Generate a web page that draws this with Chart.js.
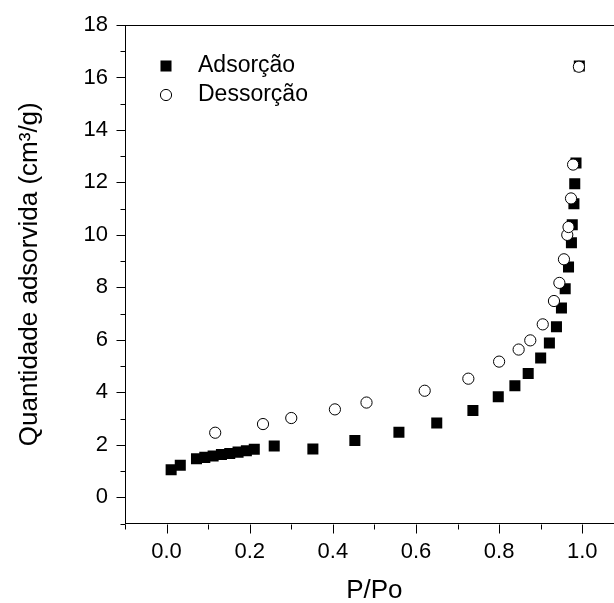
<!DOCTYPE html>
<html>
<head>
<meta charset="utf-8">
<script src="https://cdn.jsdelivr.net/npm/chart.js@4/dist/chart.umd.min.js"></script>
<style>
  html, body { margin: 0; padding: 0; background: #fff; overflow: hidden; }
  #wrap { width: 614px; height: 603px; overflow: hidden; position: relative; background: #fff; }
  canvas { display: block; }
</style>
</head>
<body>
<div id="wrap"><canvas id="isotherm" width="640" height="610"></canvas></div>
<script>
// N2 isotherm: relative pressure (P/Po) vs. adsorbed quantity (cm³/g)
const adsorptionP = [0.011, 0.033, 0.072, 0.092, 0.112, 0.132, 0.152, 0.172, 0.192, 0.211,
                     0.259, 0.352, 0.453, 0.559, 0.650, 0.737, 0.798, 0.838, 0.870, 0.900,
                     0.921, 0.938, 0.950, 0.959, 0.967, 0.974, 0.976, 0.980, 0.982, 0.985, 0.993];
const adsorptionQ = [1.05, 1.22, 1.47, 1.52, 1.57, 1.63, 1.67, 1.72, 1.77, 1.83,
                     1.95, 1.84, 2.16, 2.48, 2.83, 3.31, 3.83, 4.25, 4.72, 5.31,
                     5.88, 6.50, 7.21, 7.95, 8.78, 9.70, 10.39, 11.19, 11.95, 12.74, 16.44];
const desorptionP = [0.117, 0.232, 0.300, 0.405, 0.481, 0.621, 0.726, 0.800, 0.847, 0.875,
                     0.905, 0.932, 0.945, 0.956, 0.964, 0.967, 0.973, 0.978, 0.992];
const desorptionQ = [2.46, 2.79, 3.02, 3.35, 3.61, 4.06, 4.52, 5.17, 5.63, 5.98,
                     6.59, 7.48, 8.17, 9.07, 10.00, 10.30, 11.39, 12.68, 16.41];

const seriesNames = ['Adsorção', 'Dessorção'];
const xTickLabels = ['0.0', '0.2', '0.4', '0.6', '0.8', '1.0'];
const yTickLabels = ['0', '2', '4', '6', '8', '10', '12', '14', '16', '18'];
const xAxisTitle = 'P/Po';
const yAxisTitle = 'Quantidade adsorvida (cm³/g)';

const FONT = "'Liberation Sans', Arial, sans-serif";

const toPoints = (xs, ys) => xs.map((x, i) => ({ x: x, y: ys[i] }));

// Outward tick marks (long for labelled values, short otherwise) plus the top/right frame
const axisFrame = {
  id: 'axisFrame',
  afterDraw(chart) {
    const { ctx, chartArea: a } = chart;
    const xs = chart.scales.x, ys = chart.scales.y;
    const al = v => Math.round(v) + 0.5;
    ctx.save();
    ctx.strokeStyle = '#000';
    ctx.lineWidth = 1;
    ctx.beginPath();
    ctx.moveTo(al(a.left), al(a.top));
    ctx.lineTo(al(a.right), al(a.top));
    ctx.lineTo(al(a.right), al(a.bottom));
    xs.ticks.forEach(t => {
      const px = al(xs.getPixelForValue(t.value));
      const len = t.label ? 9 : 5;
      ctx.moveTo(px, al(a.bottom));
      ctx.lineTo(px, al(a.bottom) + len);
    });
    ys.ticks.forEach(t => {
      const py = al(ys.getPixelForValue(t.value));
      const len = t.label ? 9 : 5;
      ctx.moveTo(al(a.left), py);
      ctx.lineTo(al(a.left) - len, py);
    });
    ctx.stroke();
    ctx.restore();
  }
};

// Legend drawn inside the plot, upper left, using each dataset's own marker style
const insideLegend = {
  id: 'insideLegend',
  afterDatasetsDraw(chart) {
    const { ctx, chartArea: a } = chart;
    ctx.save();
    ctx.font = '23px ' + FONT;
    ctx.textBaseline = 'middle';
    ctx.textAlign = 'left';
    chart.data.datasets.forEach((ds, i) => {
      const cy = a.top + 41 + i * 29;
      const cx = a.left + 41;
      ctx.fillStyle = ds.pointBackgroundColor;
      ctx.strokeStyle = ds.pointBorderColor;
      ctx.lineWidth = ds.pointBorderWidth;
      Chart.helpers.drawPoint(ctx, {
        pointStyle: ds.pointStyle,
        radius: ds.pointRadius,
        rotation: 0,
        borderWidth: ds.pointBorderWidth
      }, cx, cy);
      ctx.fillStyle = '#000';
      ctx.fillText(ds.label, a.left + 73, cy);
    });
    ctx.restore();
  }
};

new Chart(document.getElementById('isotherm'), {
  type: 'scatter',
  data: {
    datasets: [
      {
        label: seriesNames[0],
        data: toPoints(adsorptionP, adsorptionQ),
        pointStyle: 'rect',
        pointRadius: 7.8,
        pointBackgroundColor: '#000',
        pointBorderColor: '#000',
        pointBorderWidth: 0,
        showLine: false,
        order: 2
      },
      {
        label: seriesNames[1],
        data: toPoints(desorptionP, desorptionQ),
        pointStyle: 'circle',
        pointRadius: 5.6,
        pointBackgroundColor: '#fff',
        pointBorderColor: '#000',
        pointBorderWidth: 1,
        showLine: false,
        order: 1
      }
    ]
  },
  options: {
    responsive: false,
    animation: false,
    devicePixelRatio: 1,
    layout: { padding: { top: 25, right: 16.2, left: 0, bottom: 0 } },
    plugins: {
      legend: { display: false },
      tooltip: { enabled: false }
    },
    scales: {
      x: {
        type: 'linear',
        min: -0.1,
        max: 1.1,
        afterFit: s => { s.height = 86.5; },
        border: { display: true, color: '#000', width: 1 },
        grid: { display: false, drawTicks: true, tickLength: 10 },
        ticks: {
          stepSize: 0.1,
          autoSkip: false,
          maxRotation: 0,
          padding: 5,
          color: '#000',
          font: { family: FONT, size: 22 },
          callback: v => {
            const val = Math.abs(v) < 1e-9 ? 0 : v;
            const s = val.toFixed(1);
            return xTickLabels.includes(s) ? s : '';
          }
        },
        title: {
          display: true,
          text: xAxisTitle,
          color: '#000',
          font: { family: FONT, size: 26 },
          padding: { top: 0, bottom: 4 }
        }
      },
      y: {
        type: 'linear',
        min: -1,
        max: 18,
        afterFit: s => { s.width = 125; },
        border: { display: true, color: '#000', width: 1 },
        grid: { display: false, drawTicks: true, tickLength: 10 },
        ticks: {
          stepSize: 1,
          autoSkip: false,
          padding: 7,
          color: '#000',
          font: { family: FONT, size: 22 },
          callback: v => {
            const s = String(Math.round(v));
            return yTickLabels.includes(s) ? s : '';
          }
        },
        title: {
          display: true,
          text: yAxisTitle,
          color: '#000',
          font: { family: FONT, size: 26 },
          padding: { top: 14, bottom: 0 }
        }
      }
    }
  },
  plugins: [axisFrame, insideLegend]
});
</script>
</body>
</html>
